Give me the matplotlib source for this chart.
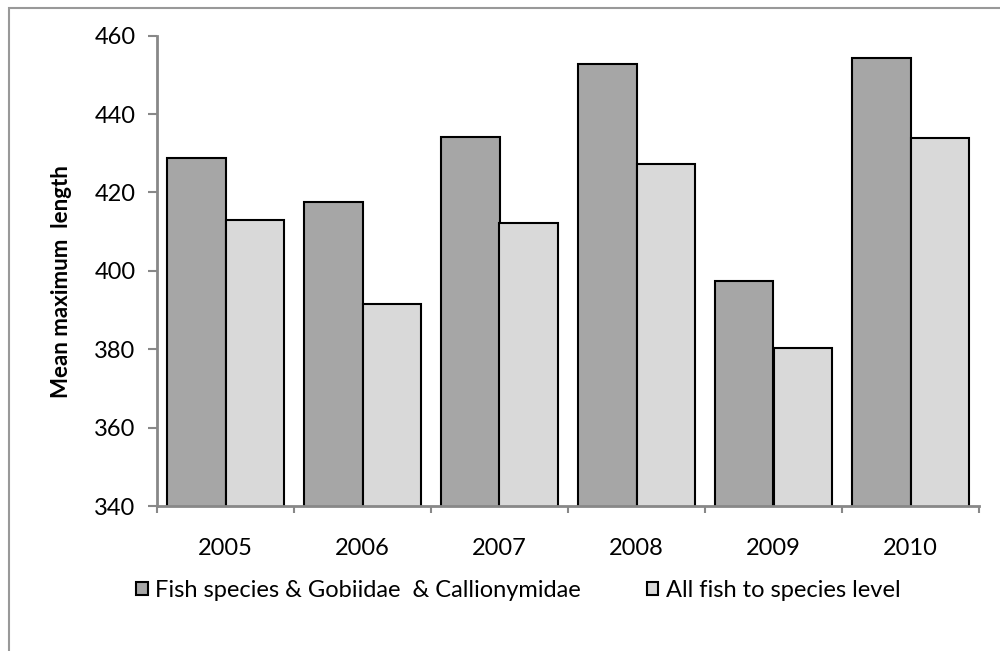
import numpy as np
import matplotlib.pyplot as plt
from matplotlib.patches import Rectangle

plt.rcParams['font.family'] = ['Lato', 'DejaVu Sans']

years = ['2005', '2006', '2007', '2008', '2009', '2010']
fish_gob_call = [428.8, 417.6, 434.2, 452.9, 397.5, 454.4]
all_fish = [413.1, 391.5, 412.1, 427.2, 380.4, 433.8]
labels = ['Fish species & Gobiidae  & Callionymidae', 'All fish to species level']

fig = plt.figure(figsize=(10, 6.51), dpi=100)
ax = fig.add_axes([0.157, 0.2227, 0.822, 0.7225])

x = np.arange(len(years))
w = 0.427
b1 = ax.bar(x - w/2, fish_gob_call, w, color='#a6a6a6', edgecolor='black', linewidth=1.5)
b2 = ax.bar(x + w/2, all_fish, w, color='#d9d9d9', edgecolor='black', linewidth=1.5)

ax.set_ylim(340, 460)
ax.set_xlim(-0.5, 5.5)
ax.set_yticks(np.arange(340, 461, 20))
ax.set_xticks(x)
ax.set_xticklabels(years)
ax.set_xticks(np.arange(-0.5, 6, 1), minor=True)

for s in ['top', 'right']:
    ax.spines[s].set_visible(False)
for s in ['left', 'bottom']:
    ax.spines[s].set_color('#888888')
    ax.spines[s].set_linewidth(2)

ax.tick_params(axis='y', direction='out', length=6.5, width=1.5, color='#888888', pad=9, labelsize=17)
ax.tick_params(axis='x', which='major', length=0, pad=23, labelsize=17)
ax.tick_params(axis='x', which='minor', direction='out', length=5, width=1.5, color='#888888')

ax.set_ylabel('Mean maximum  length', fontsize=16, fontweight='bold')
ax.yaxis.set_label_coords(-0.104, 0.477)

fig.legend([b1, b2], labels, loc='center', bbox_to_anchor=(0.518, 0.093), ncol=2,
           frameon=False, fontsize=17, handlelength=0.5, handleheight=0.5,
           handletextpad=0.3, columnspacing=2.8)

# chart-area border (runs off the right and bottom of the picture)
fig.patches.append(Rectangle((0.009, -0.2), 2, 0.9877 + 0.2, transform=fig.transFigure,
                             fill=False, edgecolor='#999999', linewidth=1.5))

plt.savefig('out.png', dpi=100)
